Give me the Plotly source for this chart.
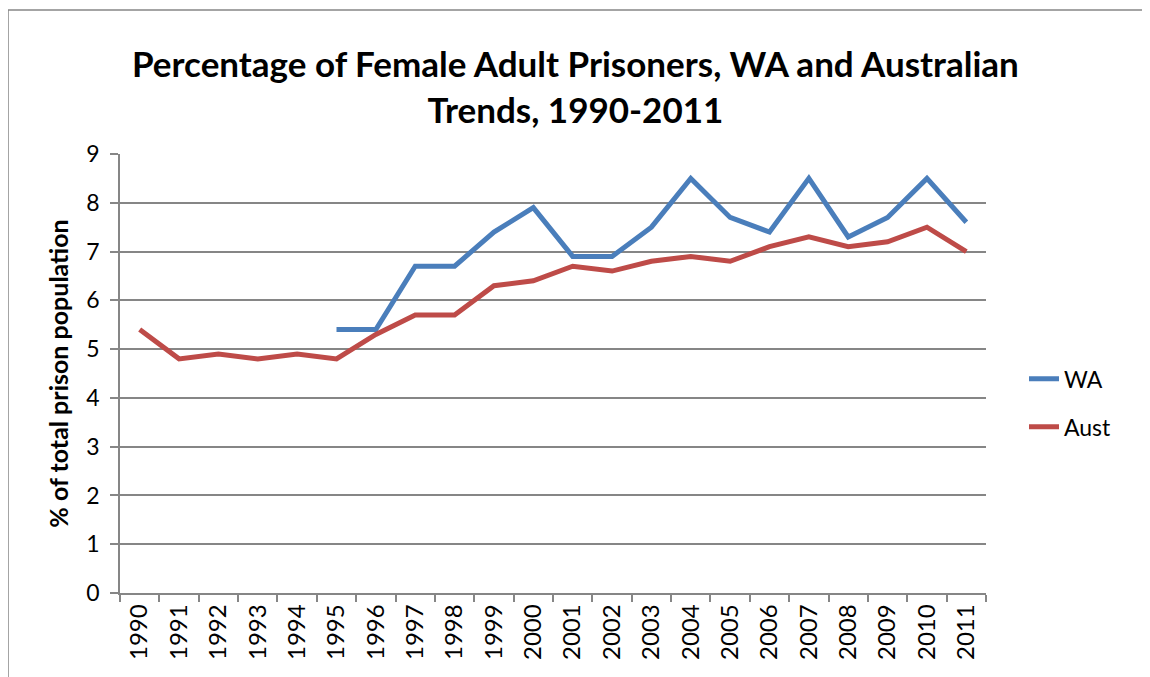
import plotly.graph_objects as go

years = [str(y) for y in range(1990, 2012)]
wa = [None, None, None, None, None, 5.4, 5.4, 6.7, 6.7, 7.4, 7.9, 6.9, 6.9, 7.5, 8.5, 7.7, 7.4, 8.5, 7.3, 7.7, 8.5, 7.6]
aust = [5.4, 4.8, 4.9, 4.8, 4.9, 4.8, 5.3, 5.7, 5.7, 6.3, 6.4, 6.7, 6.6, 6.8, 6.9, 6.8, 7.1, 7.3, 7.1, 7.2, 7.5, 7.0]
y_ticks = list(range(0, 10))

title_text = "Percentage of Female Adult Prisoners, WA and Australian<br>Trends, 1990-2011"
y_title = "% of total prison population"

FONT = "Lato"
GRID = "#868686"

# page has an 8px body margin: compensate so plot area sits at x 120..986, y 154..593
OFF = 8
PL, PR, PT, PB = 120, 986, 154, 593.3
W, H = 1150 - OFF, 677 - OFF
PW, PH = PR - PL, PB - PT


def px(x):
    return (x - PL) / PW


def py(y):
    return (PB - y) / PH


fig = go.Figure()
fig.add_trace(go.Scatter(x=years, y=wa, name="WA", mode="lines",
                         line=dict(color="#4A7EBB", width=5), legend="legend"))
fig.add_trace(go.Scatter(x=years, y=aust, name="Aust", mode="lines",
                         line=dict(color="#BE4B48", width=5), legend="legend2"))

fig.update_layout(
    width=W, height=H,
    margin=dict(l=PL - OFF, r=W - (PR - OFF), t=PT - OFF, b=H - (PB - OFF)),
    paper_bgcolor="white", plot_bgcolor="white",
    font=dict(family=FONT, color="black", size=23),
    showlegend=True,
    legend=dict(x=px(1024), y=py(379), xanchor="left", yanchor="middle",
                font=dict(family=FONT, size=23, color="black"), bgcolor="rgba(0,0,0,0)"),
    legend2=dict(x=px(1024), y=py(427), xanchor="left", yanchor="middle",
                 font=dict(family=FONT, size=23, color="black"), bgcolor="rgba(0,0,0,0)"),
    annotations=[dict(text="<b>" + title_text + "</b>", xref="paper", yref="paper",
                      x=px(575), y=py(86), xanchor="center", yanchor="middle",
                      showarrow=False, font=dict(family=FONT, size=35, color="black"))],
    shapes=[dict(type="rect", xref="paper", yref="paper",
                 x0=px(8), x1=px(1300), y0=py(800), y1=py(10),
                 line=dict(color="#868686", width=1.5), layer="below")],
)

fig.update_xaxes(type="category", categoryorder="array", categoryarray=years,
                 tickson="boundaries", ticks="outside", ticklen=7, tickcolor=GRID, tickwidth=1.5,
                 showline=True, linecolor=GRID, linewidth=1.5, showgrid=False,
                 tickangle=-90, tickfont=dict(family=FONT, size=24, color="black"),
                 range=[-0.5, len(years) - 0.5])
fig.update_yaxes(range=[0, 9], tickvals=y_ticks, ticks="outside", ticklen=8, tickcolor=GRID, tickwidth=1.5,
                 showline=True, linecolor=GRID, linewidth=1.5, ticklabelstandoff=6,
                 showgrid=True, gridcolor=GRID, gridwidth=1.5, zeroline=False,
                 tickfont=dict(family=FONT, size=23, color="black"),
                 title=dict(text="<b>" + y_title + "</b>", font=dict(family=FONT, size=25, color="black"),
                            standoff=11))

fig.write_html("out.html")
